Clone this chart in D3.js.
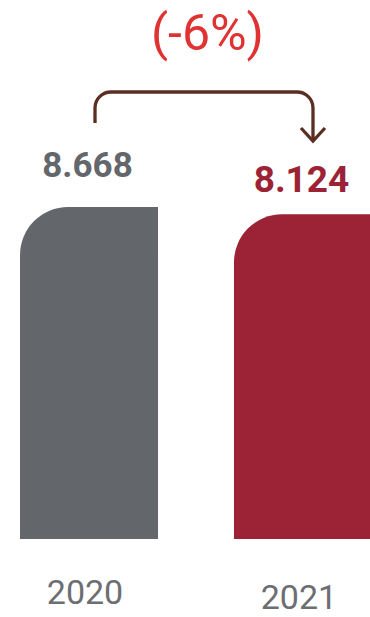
<!DOCTYPE html>
<html>
<head>
<meta charset="utf-8">
<script src="https://cdn.jsdelivr.net/npm/d3@7"></script>
<style>
  html, body { margin: 0; padding: 0; background: #fff; }
  svg { display: block; font-family: Roboto, "Noto Sans", sans-serif; }
</style>
</head>
<body>
<svg id="chart" width="370" height="617"></svg>
<script>
const years = ["2020", "2021"];
const values = [8668, 8124];
const valueLabels = ["8.668", "8.124"];
const changeLabel = "(-6%)";
const barColors = ["#63666a", "#9b2335"];

const svg = d3.select("#chart");

const x = d3.scaleBand().domain(years).range([20, 372]).paddingInner(0.355).paddingOuter(0);
// bars are drawn on a non-zero baseline as in the reference
const y = d3.scaleLinear().domain([-16070, 8668]).range([539, 207]);
const r = 48;

function barPath(d, i) {
  const x0 = x(years[i]), w = x.bandwidth();
  const top = y(d), bottom = y.range()[0];
  return `M${x0},${bottom}V${top + r}A${r},${r} 0 0 1 ${x0 + r},${top}H${x0 + w}V${bottom}Z`;
}

svg.selectAll("path.bar").data(values).join("path")
  .attr("class", "bar")
  .attr("d", barPath)
  .attr("fill", (d, i) => barColors[i]);

// value labels
const labelSizes = [35, 37];
const labelGaps = [30, 22];
svg.selectAll("text.val").data(values).join("text")
  .attr("class", "val")
  .attr("x", (d, i) => x(years[i]) + x.bandwidth() / 2 - 1.5)
  .attr("y", (d, i) => y(d) - labelGaps[i])
  .attr("text-anchor", "middle")
  .attr("font-weight", 700)
  .attr("font-size", (d, i) => labelSizes[i])
  .attr("fill", (d, i) => barColors[i])
  .text((d, i) => valueLabels[i]);

// category labels
svg.selectAll("text.cat").data(years).join("text")
  .attr("class", "cat")
  .attr("x", d => x(d) + x.bandwidth() / 2 - 4)
  .attr("y", (d, i) => 604 + i * 5)
  .attr("text-anchor", "middle")
  .attr("font-size", 34)
  .attr("fill", "#6b6e72")
  .text(d => d);

// change arrow
const ax0 = x(years[0]) + x.bandwidth() / 2 + 6;
const ax1 = x(years[1]) + x.bandwidth() / 2 + 10;
const ay = 92, ar = 16, aStart = 123, aEnd = 141;
svg.append("path")
  .attr("d", `M${ax0},${aStart}V${ay + ar}A${ar},${ar} 0 0 1 ${ax0 + ar},${ay}H${ax1 - ar}A${ar},${ar} 0 0 1 ${ax1},${ay + ar}V${aEnd - 1}`)
  .attr("fill", "none")
  .attr("stroke", "#5a2e20")
  .attr("stroke-width", 3.3);
svg.append("path")
  .attr("d", `M${ax1 - 12},${aEnd - 13}L${ax1},${aEnd}L${ax1 + 12},${aEnd - 13}`)
  .attr("fill", "none")
  .attr("stroke", "#5a2e20")
  .attr("stroke-width", 3.3);

// change label
svg.append("text")
  .attr("x", 207.5)
  .attr("y", 49.5)
  .attr("text-anchor", "middle")
  .attr("fill", "#df3232")
  .attr("font-size", 50)
  .text(changeLabel);
</script>
</body>
</html>
